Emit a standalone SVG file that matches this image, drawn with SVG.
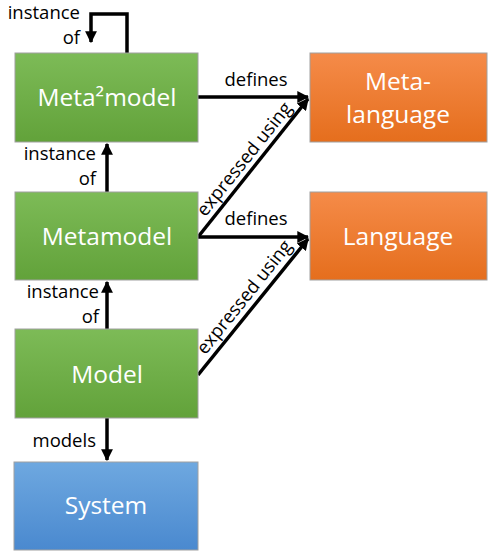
<svg xmlns="http://www.w3.org/2000/svg" width="488" height="552" viewBox="0 0 488 552">
<style>
.box{stroke:#a0a0a0;stroke-width:1}
.t{font-family:"Open Sans","Noto Sans","DejaVu Sans",sans-serif;font-size:24.5px;fill:#ffffff;text-anchor:middle}
.l{font-family:"Open Sans","Noto Sans","DejaVu Sans",sans-serif;font-size:18.5px;fill:#000000}
.c{fill:none;stroke:#000;stroke-width:3.5}
</style>
<defs>
<linearGradient id="gG" x1="0" y1="0" x2="0" y2="1"><stop offset="0" stop-color="#7dbb57"/><stop offset="1" stop-color="#62a23a"/></linearGradient>
<linearGradient id="gO" x1="0" y1="0" x2="0" y2="1"><stop offset="0" stop-color="#f58b49"/><stop offset="1" stop-color="#e56e1d"/></linearGradient>
<linearGradient id="gB" x1="0" y1="0" x2="0" y2="1"><stop offset="0" stop-color="#6ea8e0"/><stop offset="1" stop-color="#4a89cf"/></linearGradient>
<marker id="ah" viewBox="0 0 10 10" refX="9" refY="5" markerWidth="3.4" markerHeight="3.4" markerUnits="strokeWidth" orient="auto"><path d="M0,0 L10,5 L0,10 z" fill="#000"/></marker>
</defs>
<g id="connectors">
<path class="c" d="M127,53 V14 H91 V42" marker-end="url(#ah)"/>
<path class="c" d="M107,192 V144" marker-end="url(#ah)"/>
<path class="c" d="M107,329 V282" marker-end="url(#ah)"/>
<path class="c" d="M107,418 V460" marker-end="url(#ah)"/>
<path class="c" d="M198,97 H308" marker-end="url(#ah)"/>
<path class="c" d="M198,237 H308" marker-end="url(#ah)"/>
<path class="c" d="M198,237 L308,99" marker-end="url(#ah)"/>
<path class="c" d="M198,375 L308,239" marker-end="url(#ah)"/>
<text class="l" x="80" y="19" text-anchor="end">instance</text>
<text class="l" x="80" y="44" text-anchor="end">of</text>
<text class="l" x="96" y="160" text-anchor="end">instance</text>
<text class="l" x="96" y="185" text-anchor="end">of</text>
<text class="l" x="99" y="298" text-anchor="end">instance</text>
<text class="l" x="99" y="323" text-anchor="end">of</text>
<text class="l" x="96" y="447" text-anchor="end">models</text>
<text class="l" x="256" y="86" text-anchor="middle">defines</text>
<text class="l" x="256" y="225" text-anchor="middle">defines</text>
<text class="l" text-anchor="middle" transform="translate(249,163) rotate(-51.3)">expressed using</text>
<text class="l" text-anchor="middle" transform="translate(249,301) rotate(-51.3)">expressed using</text>
</g>
<g id="meta2model"><rect class="box" x="15" y="53" width="183" height="89" fill="url(#gG)"/><text class="t" x="107" y="106">Meta²model</text></g>
<g id="metamodel"><rect class="box" x="15" y="192" width="183" height="88" fill="url(#gG)"/><text class="t" x="107" y="245">Metamodel</text></g>
<g id="model"><rect class="box" x="15" y="329" width="183" height="89" fill="url(#gG)"/><text class="t" x="107" y="383">Model</text></g>
<g id="system"><rect class="box" x="14" y="462" width="184" height="88" fill="url(#gB)"/><text class="t" x="106" y="514">System</text></g>
<g id="metalanguage"><rect class="box" x="310" y="53" width="177" height="89" fill="url(#gO)"/><text class="t" x="398" y="90">Meta-</text><text class="t" x="398" y="123">language</text></g>
<g id="language"><rect class="box" x="310" y="192" width="177" height="88" fill="url(#gO)"/><text class="t" x="398" y="245">Language</text></g>
</svg>
